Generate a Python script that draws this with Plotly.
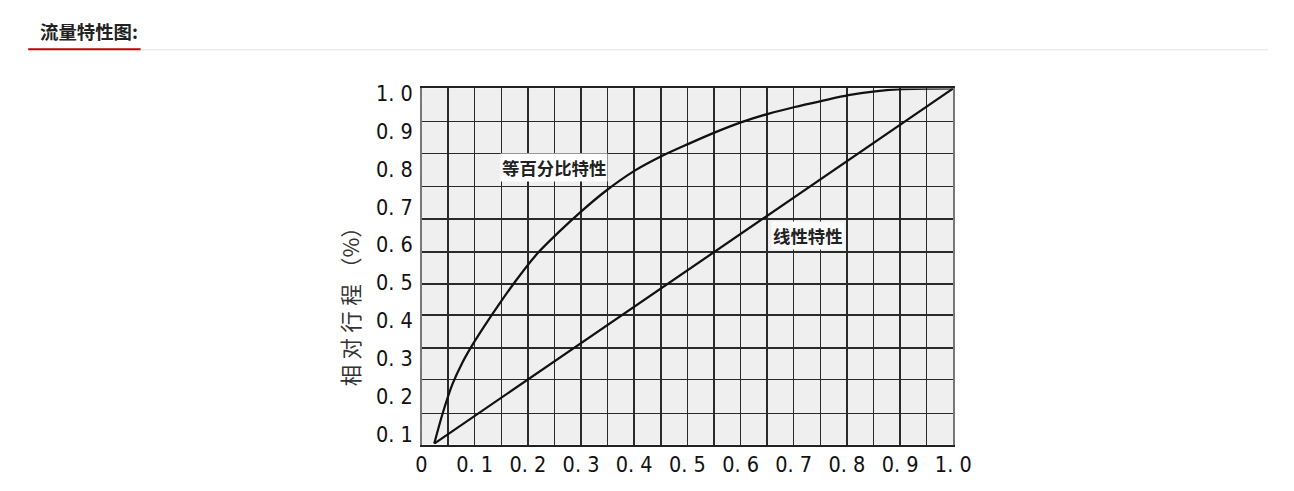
import plotly.graph_objects as go

# ---- data ----
eq_x = [0.024, 0.039, 0.058, 0.077, 0.096, 0.121, 0.149, 0.177, 0.215, 0.259,
        0.300, 0.347, 0.401, 0.451, 0.501, 0.552, 0.602, 0.652, 0.702, 0.753,
        0.803, 0.853, 0.904, 1.0]
eq_y = [0.076, 0.152, 0.232, 0.290, 0.337, 0.392, 0.450, 0.505, 0.573, 0.635,
        0.688, 0.743, 0.796, 0.834, 0.866, 0.897, 0.924, 0.946, 0.964, 0.980,
        0.995, 1.005, 1.011, 1.013]
lin_x = [0.024, 1.0]
lin_y = [0.076, 1.013]

x_tickvals = [0, 0.1, 0.2, 0.3, 0.4, 0.5, 0.6, 0.7, 0.8, 0.9, 1.0]
x_ticktext = ["0", "0. 1", "0. 2", "0. 3", "0. 4", "0. 5", "0. 6", "0. 7", "0. 8", "0. 9", "1. 0"]
y_tickvals = [0.1, 0.2, 0.3, 0.4, 0.5, 0.6, 0.7, 0.8, 0.9, 1.0]
y_ticktext = ["0. 1", "0. 2", "0. 3", "0. 4", "0. 5", "0. 6", "0. 7", "0. 8", "0. 9", "1. 0"]
# horizontal grid rows of the scanned paper (11 rows)
y_grid = [0.0735, 0.1556, 0.2456, 0.3276, 0.4150, 0.4971, 0.5817, 0.6691,
          0.7538, 0.8412, 0.9259, 1.013]
x_range = [0, 1.0]
y_range = [0.0735, 1.013]

# figure sits inside the page body (8px default margin)
PM = 8
W, H = 1294 - 2 * PM, 491 - 2 * PM
# correction for the capture (content appears scaled/shifted)
S, OFF = 0.978, 7.0


def PX(px):
    return ((px - OFF) / S - PM) / W


def PY(py):
    return 1 - ((py - OFF) / S - PM) / H


def F(sz):
    return sz / S


TICKFONT = dict(family="Liberation Sans Narrow, DejaVu Sans Condensed, Arial Narrow, sans-serif",
                size=F(21), color="#111")
CJK = "Noto Sans CJK SC"

fig = go.Figure()
fig.add_trace(go.Scatter(x=eq_x, y=eq_y, mode="lines",
                         line=dict(color="#111", width=F(2.2), shape="spline", smoothing=0.8),
                         hoverinfo="skip", showlegend=False))
fig.add_trace(go.Scatter(x=lin_x, y=lin_y, mode="lines",
                         line=dict(color="#111", width=F(2.2)),
                         hoverinfo="skip", showlegend=False))

fig.add_annotation(x=0.249, y=0.804, xref="x", yref="y", text="等百分比特性",
                   showarrow=False, bgcolor="white",
                   font=dict(family=CJK, size=F(17), color="#222", weight="bold"))
fig.add_annotation(x=0.726, y=0.624, xref="x", yref="y", text="线性特性",
                   showarrow=False, bgcolor="#fafafa",
                   font=dict(family=CJK, size=F(17), color="#222", weight="bold"))

# y-axis title (placed like the scan, below the plot's middle)
ttl = "\u2005".join("相对行程") + "\u2005（%）"
fig.add_annotation(x=PX(349), y=PY(300), xref="paper", yref="paper", text=ttl,
                   textangle=-90, showarrow=False, xanchor="center", yanchor="middle",
                   font=dict(family=CJK, size=F(21), color="#333"))

# page header
fig.add_annotation(x=PX(39), y=PY(31), xref="paper", yref="paper", text="流量特性图:",
                   showarrow=False, xanchor="left", yanchor="middle",
                   font=dict(family=CJK, size=F(18), color="#222", weight="bold"))
fig.add_shape(type="line", xref="paper", yref="paper", x0=PX(141), x1=PX(1265),
              y0=PY(49.5), y1=PY(49.5), line=dict(color="#e3e3e3", width=1))
fig.add_shape(type="line", xref="paper", yref="paper", x0=PX(29), x1=PX(141),
              y0=PY(49), y1=PY(49), line=dict(color="#c00000", width=F(2)))

fig.update_layout(
    width=W, height=H,
    margin=dict(l=0, r=0, t=0, b=0),
    paper_bgcolor="white",
    plot_bgcolor="#efefef",
    xaxis=dict(domain=[PX(421), PX(951)], range=x_range,
               tickmode="array", tickvals=x_tickvals, ticktext=x_ticktext,
               tickfont=TICKFONT, ticks="", ticklabelstandoff=0,
               showgrid=True, gridcolor="#2a2a2a", gridwidth=1.5,
               minor=dict(tickmode="linear", tick0=0.05, dtick=0.1, showgrid=True,
                          gridcolor="#2a2a2a", gridwidth=1.5, ticks=""),
               showline=True, mirror=True, linecolor="#222", linewidth=2,
               zeroline=False, fixedrange=True),
    yaxis=dict(domain=[PY(443), PY(88)], range=y_range,
               tickmode="array", tickvals=y_tickvals, ticktext=y_ticktext,
               tickfont=TICKFONT, ticks="", ticklabelstandoff=3,
               showgrid=False,
               minor=dict(tickmode="array", tickvals=y_grid, showgrid=True,
                          gridcolor="#2a2a2a", gridwidth=1.5, ticks=""),
               showline=True, mirror=True, linecolor="#777", linewidth=1.5,
               zeroline=False, fixedrange=True),
)

fig.write_html("out.html", config={"displayModeBar": False, "staticPlot": True})
